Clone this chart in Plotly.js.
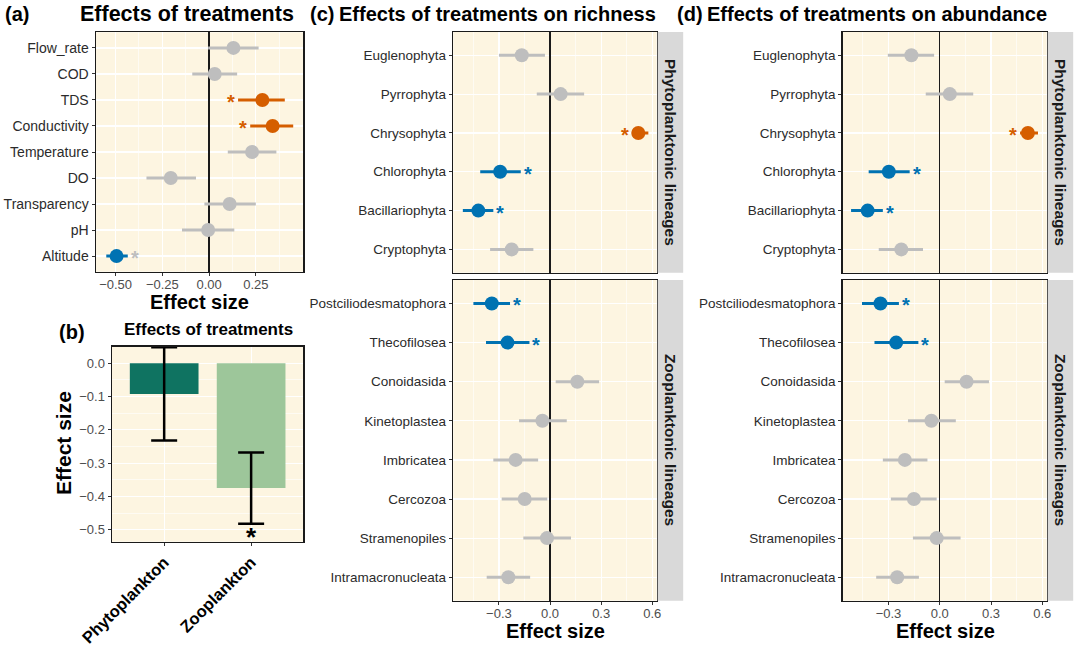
<!DOCTYPE html>
<html>
<head>
<meta charset="utf-8">
<script src="https://cdn.plot.ly/plotly-3.0.1.min.js"></script>
<style>html,body{margin:0;padding:0;background:#fff}#chart{width:1080px;height:647px}</style>
</head>
<body>
<div id="chart"></div>
<script>
// ---------------- DATA ----------------
// Panel (a): effects of environmental treatments
const aVars = ['Flow_rate','COD','TDS','Conductivity','Temperature','DO','Transparency','pH','Altitude'];
const aEst  = [0.13, 0.03, 0.285, 0.34, 0.23, -0.205, 0.11, -0.005, -0.495];
const aLow  = [-0.005, -0.09, 0.155, 0.22, 0.10, -0.335, -0.025, -0.145, -0.55];
const aHigh = [0.265, 0.15, 0.405, 0.45, 0.36, -0.07, 0.25, 0.135, -0.435];
const aGroup = ['ns','ns','pos','pos','ns','ns','ns','ns','neg'];
const aStar  = ['','','pos','pos','','','','','ns'];

// Panel (b): effects on plankton groups
const bGroups = ['Phytoplankton','Zooplankton'];
const bEffect = [-0.092, -0.375];
const bErr    = [0.14, 0.107];
const bSig    = [false, true];

// Panel (c): effects on richness
const phytoLineages = ['Euglenophyta','Pyrrophyta','Chrysophyta','Chlorophyta','Bacillariophyta','Cryptophyta'];
const zooLineages = ['Postciliodesmatophora','Thecofilosea','Conoidasida','Kinetoplastea','Imbricatea','Cercozoa','Stramenopiles','Intramacronucleata'];

const cPhytoEst  = [-0.166, 0.062, 0.518, -0.293, -0.421, -0.225];
const cPhytoLow  = [-0.30, -0.078, 0.48, -0.41, -0.512, -0.352];
const cPhytoHigh = [-0.03, 0.20, 0.577, -0.172, -0.333, -0.098];
const cPhytoGroup = ['ns','ns','pos','neg','neg','ns'];

const cZooEst  = [-0.342, -0.25, 0.16, -0.045, -0.202, -0.149, -0.018, -0.245];
const cZooLow  = [-0.45, -0.376, 0.033, -0.182, -0.333, -0.284, -0.157, -0.372];
const cZooHigh = [-0.235, -0.121, 0.288, 0.098, -0.07, -0.016, 0.123, -0.117];
const cZooGroup = ['neg','neg','ns','ns','ns','ns','ns','ns'];

// Panel (d): effects on abundance
const dPhytoEst  = [-0.166, 0.059, 0.516, -0.298, -0.422, -0.225];
const dPhytoLow  = [-0.304, -0.082, 0.47, -0.416, -0.519, -0.357];
const dPhytoHigh = [-0.033, 0.196, 0.575, -0.176, -0.333, -0.098];
const dPhytoGroup = ['ns','ns','pos','neg','neg','ns'];

const dZooEst  = [-0.347, -0.255, 0.157, -0.049, -0.204, -0.151, -0.018, -0.249];
const dZooLow  = [-0.455, -0.382, 0.029, -0.186, -0.333, -0.286, -0.157, -0.372];
const dZooHigh = [-0.239, -0.125, 0.288, 0.094, -0.072, -0.018, 0.122, -0.122];
const dZooGroup = ['neg','neg','ns','ns','ns','ns','ns','ns'];

// ---------------- STYLE / LAYOUT ----------------
const W = 1080, H = 647;
const FONT = '"Liberation Sans", Arial, Helvetica, sans-serif';
const COLORS = {ns:'#BEBEBE', pos:'#D55E00', neg:'#0072B2'};
const BAR_COLORS = ['#0F7361', '#9DC69A'];
const BG = '#FDF5E1';

const fx = p => p / W;
const fy = p => 1 - p / H;

const traces = [];
const annos = [];
const shapes = [];

function forest(cats, est, lo, hi, grp, star, xa, ya) {
  ['ns','pos','neg'].forEach(g => {
    const idx = cats.map((_, i) => i).filter(i => grp[i] === g);
    if (!idx.length) return;
    traces.push({
      type:'scatter', mode:'markers', xaxis:xa, yaxis:ya,
      x: idx.map(i => est[i]), y: idx.map(i => cats[i]),
      error_x: {type:'data', symmetric:false,
        array: idx.map(i => hi[i] - est[i]),
        arrayminus: idx.map(i => est[i] - lo[i]),
        color: COLORS[g], thickness:3, width:0},
      marker: {size:14, color: COLORS[g]},
      hoverinfo:'skip', showlegend:false
    });
  });
  cats.forEach((c, i) => {
    if (!star[i]) return;
    const positive = est[i] > 0;
    annos.push({
      xref: xa, yref: ya, x: positive ? lo[i] : hi[i], y: c, text: '*',
      showarrow:false, xanchor: positive ? 'right' : 'left',
      xshift: positive ? -1 : 1, yshift: -2,
      font: {family:FONT, size:20, color: COLORS[star[i]], weight:'bold'}
    });
  });
}
const starOf = grp => grp.map(g => g === 'ns' ? '' : g);

forest(aVars, aEst, aLow, aHigh, aGroup, aStar, 'x', 'y');
forest(phytoLineages, cPhytoEst, cPhytoLow, cPhytoHigh, cPhytoGroup, starOf(cPhytoGroup), 'x3', 'y3');
forest(zooLineages, cZooEst, cZooLow, cZooHigh, cZooGroup, starOf(cZooGroup), 'x4', 'y4');
forest(phytoLineages, dPhytoEst, dPhytoLow, dPhytoHigh, dPhytoGroup, starOf(dPhytoGroup), 'x5', 'y5');
forest(zooLineages, dZooEst, dZooLow, dZooHigh, dZooGroup, starOf(dZooGroup), 'x6', 'y6');

// Panel (b) bars
traces.push({
  type:'bar', xaxis:'x2', yaxis:'y2', x: bGroups, y: bEffect,
  marker:{color: BAR_COLORS, line:{width:0}},
  error_y:{type:'data', array: bErr, color:'#000', thickness:2.5, width:13},
  hoverinfo:'skip', showlegend:false
});
bGroups.forEach((g, i) => {
  if (!bSig[i]) return;
  annos.push({xref:'x2', yref:'y2', x:g, y: bEffect[i] - bErr[i], text:'*', showarrow:false,
    xanchor:'center', yanchor:'top', yshift:4,
    font:{family:FONT, size:26, color:'#000', weight:'bold'}});
});

// Axis helpers
const base = {
  showline:true, mirror:true, linecolor:'#1a1a1a', linewidth:1.5,
  showgrid:true, gridcolor:'#FFFFFF', gridwidth:1.2, zeroline:false,
  ticks:'outside', ticklen:3, tickwidth:1, tickcolor:'#333', fixedrange:true,
  tickfont:{family:FONT, size:13, color:'#4D4D4D'}
};
const zl = {zeroline:true, zerolinecolor:'#1a1a1a', zerolinewidth:1.2};
function catY(cats, dom, anchor) {
  return Object.assign({}, base, {
    domain:[fy(dom[1]), fy(dom[0])], anchor, type:'category',
    categoryorder:'array', categoryarray:cats,
    range:[cats.length - 0.4, -0.6],
    tickfont:{family:FONT, size:13.5, color:'#2b2b2b'}
  });
}
const cdX = (dom, anchor, labels) => Object.assign({}, base, zl, {
  domain:[fx(dom[0]), fx(dom[1])], anchor, range:[-0.568, 0.626],
  tickmode:'array', tickvals:[-0.3, 0, 0.3, 0.6], tickformat:'.1f',
  showticklabels: labels, ticks: labels ? 'outside' : '', ticklabelstandoff:-3,
  minor:{showgrid:true, gridcolor:'#FFFFFF', gridwidth:0.6, tickmode:'array', tickvals:[-0.45,-0.15,0.15,0.45], ticks:''}
});

const A_X = [96, 303.3], A_Y = [32.3, 271.7];
const B_X = [112, 303.3], B_Y = [346.7, 541.7];
const C_X = [453.3, 656.7], D_X = [842.7, 1046.7];
const TOP_Y = [32, 272.7], BOT_Y = [280, 600.7];

const layout = {
  width:W, height:H, margin:{l:0, r:0, t:0, b:0},
  paper_bgcolor:'#FFFFFF', plot_bgcolor:BG, showlegend:false,
  font:{family:FONT, color:'#1a1a1a'},
  bargap:0.21,
  xaxis: Object.assign({}, base, zl, {
    domain:[fx(A_X[0]), fx(A_X[1])], anchor:'y', range:[-0.605, 0.504],
    tickmode:'array', tickvals:[-0.5,-0.25,0,0.25], tickformat:'.2f', ticklabelstandoff:-3,
    minor:{showgrid:true, gridcolor:'#FFFFFF', gridwidth:0.6, tickmode:'array', tickvals:[-0.375,-0.125,0.125,0.375], ticks:''}
  }),
  yaxis: Object.assign(catY(aVars, A_Y, 'x'), {tickfont:{family:FONT, size:14, color:'#2b2b2b'}}),
  xaxis2: Object.assign({}, base, {
    domain:[fx(B_X[0]), fx(B_X[1])], anchor:'y2', type:'category',
    categoryorder:'array', categoryarray:bGroups, range:[-0.6, 1.6],
    tickangle:-45, tickfont:{family:FONT, size:16.5, color:'#000', weight:'bold'}
  }),
  yaxis2: Object.assign({}, base, {
    domain:[fy(B_Y[1]), fy(B_Y[0])], anchor:'x2', range:[-0.536, 0.05],
    tick0:0, dtick:0.1, tickformat:'.1f',
    minor:{showgrid:true, gridcolor:'#FFFFFF', gridwidth:0.6, dtick:0.05, tick0:0, ticks:''}
  }),
  xaxis3: cdX(C_X, 'y3', false),
  yaxis3: catY(phytoLineages, TOP_Y, 'x3'),
  xaxis4: cdX(C_X, 'y4', true),
  yaxis4: catY(zooLineages, BOT_Y, 'x4'),
  xaxis5: cdX(D_X, 'y5', false),
  yaxis5: catY(phytoLineages, TOP_Y, 'x5'),
  xaxis6: cdX(D_X, 'y6', true),
  yaxis6: catY(zooLineages, BOT_Y, 'x6'),
  shapes: shapes,
  annotations: annos
};

// facet strips
function strip(x0, y, text) {
  shapes.push({type:'rect', xref:'paper', yref:'paper', x0:fx(x0), x1:fx(x0 + 25.5),
    y0:fy(y[1]), y1:fy(y[0]), fillcolor:'#D9D9D9', line:{width:0}});
  annos.push({xref:'paper', yref:'paper', x:fx(x0 + 12.75), y:fy((y[0] + y[1]) / 2),
    text:text, textangle:90, showarrow:false, xanchor:'center', yanchor:'middle',
    font:{family:FONT, size:15.5, color:'#1a1a1a', weight:'bold'}});
}
strip(C_X[1] + 1, TOP_Y, 'Phytoplanktonic lineages');
strip(C_X[1] + 1, BOT_Y, 'Zooplanktonic lineages');
strip(D_X[1] + 1, TOP_Y, 'Phytoplanktonic lineages');
strip(D_X[1] + 1, BOT_Y, 'Zooplanktonic lineages');

// titles and labels
function txt(x, y, text, size, anchor, extra) {
  annos.push(Object.assign({xref:'paper', yref:'paper', x:fx(x), y:fy(y), text:text,
    showarrow:false, xanchor:anchor, yanchor:'middle',
    font:{family:FONT, size:size, color:'#000', weight:'bold'}}, extra || {}));
}
txt(3, 14, '(a)', 20, 'left');
txt(186.5, 14, 'Effects of treatments', 21.5, 'center');
txt(199.5, 301.5, 'Effect size', 20, 'center');
txt(57, 332, '(b)', 20, 'left');
txt(208, 330, 'Effects of treatments', 17, 'center');
txt(63, 443, 'Effect size', 21, 'center', {textangle:-90});
txt(308, 14, '(c)', 20, 'left');
txt(337, 14, 'Effects of treatments on richness', 20, 'left');
txt(555, 631, 'Effect size', 20, 'center');
txt(675, 14, '(d)', 20, 'left');
txt(705, 14, 'Effects of treatments on abundance', 20, 'left');
txt(945, 631, 'Effect size', 20, 'center');

Plotly.newPlot('chart', traces, layout, {staticPlot:true, displayModeBar:false});
</script>
</body>
</html>
